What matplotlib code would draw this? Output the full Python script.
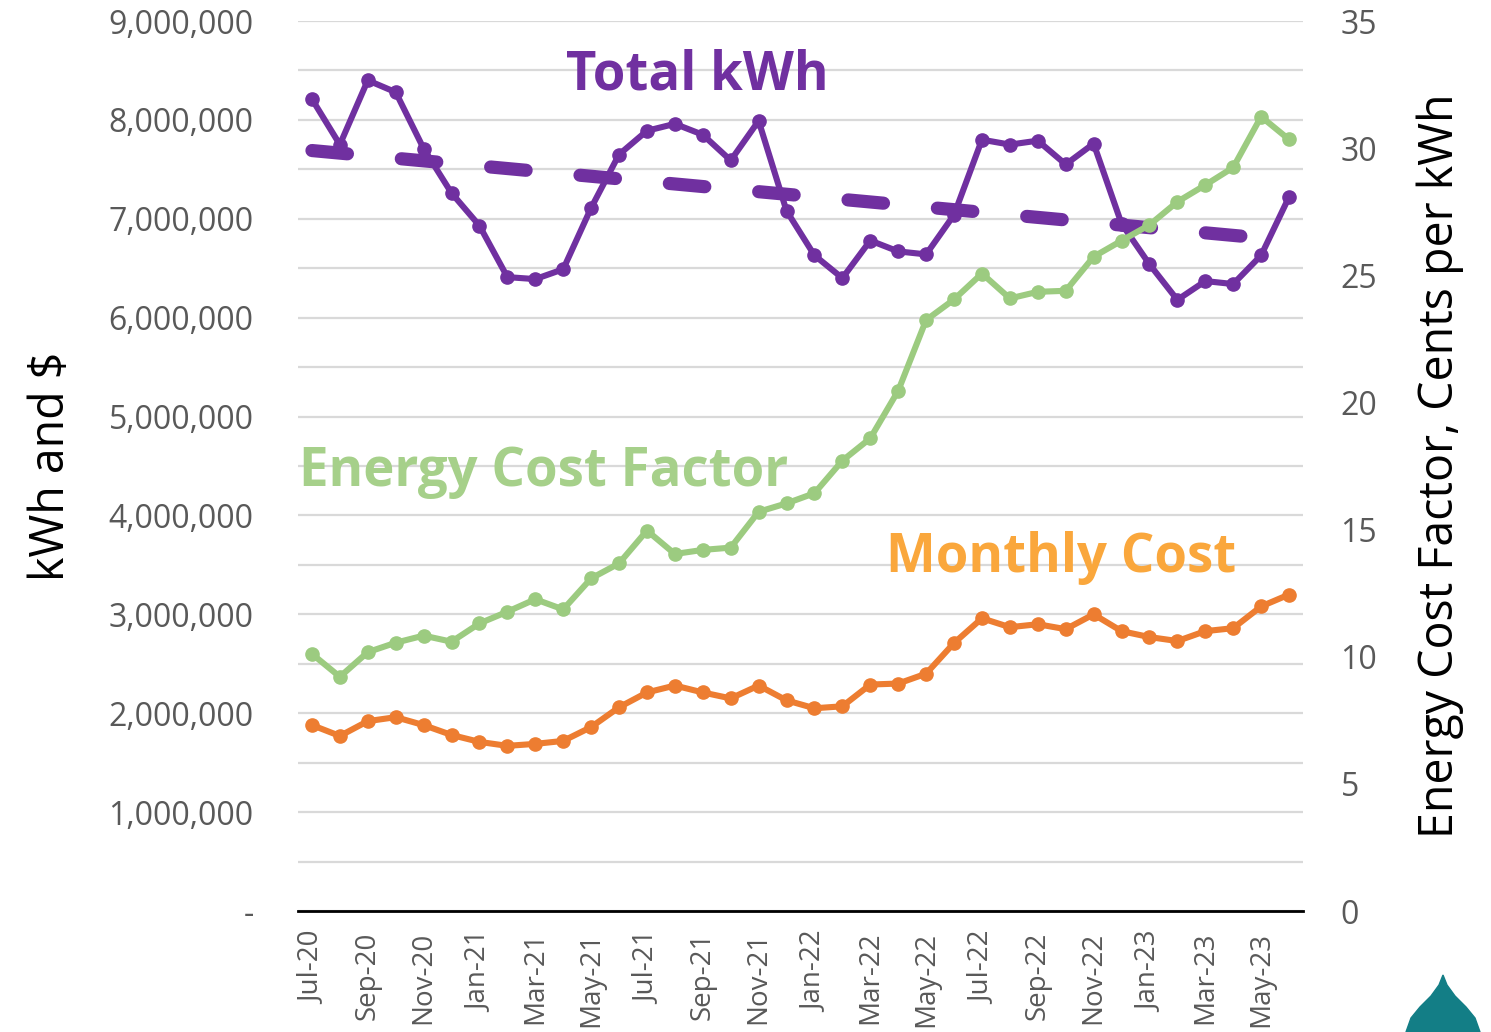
import matplotlib
matplotlib.use("Agg")
import matplotlib.pyplot as plt
from matplotlib.patches import Polygon
from matplotlib.ticker import FuncFormatter
import numpy as np

plt.rcParams['font.family'] = ['Open Sans', 'DejaVu Sans']

# Monthly data, Jul-20 .. Jun-23
months = ['Jul-20', 'Aug-20', 'Sep-20', 'Oct-20', 'Nov-20', 'Dec-20',
          'Jan-21', 'Feb-21', 'Mar-21', 'Apr-21', 'May-21', 'Jun-21',
          'Jul-21', 'Aug-21', 'Sep-21', 'Oct-21', 'Nov-21', 'Dec-21',
          'Jan-22', 'Feb-22', 'Mar-22', 'Apr-22', 'May-22', 'Jun-22',
          'Jul-22', 'Aug-22', 'Sep-22', 'Oct-22', 'Nov-22', 'Dec-22',
          'Jan-23', 'Feb-23', 'Mar-23', 'Apr-23', 'May-23', 'Jun-23']

total_kwh = [8.21, 7.75, 8.40, 8.28, 7.71, 7.26, 6.93, 6.41, 6.39, 6.49,
             7.11, 7.65, 7.89, 7.96, 7.85, 7.59, 7.99, 7.08, 6.63, 6.40,
             6.78, 6.67, 6.64, 7.04, 7.80, 7.75, 7.79, 7.55, 7.76, 6.95,
             6.54, 6.18, 6.37, 6.34, 6.63, 7.22]
total_kwh = [v * 1e6 for v in total_kwh]

monthly_cost = [1.88, 1.77, 1.92, 1.96, 1.88, 1.78, 1.71, 1.67, 1.69, 1.72,
                1.86, 2.06, 2.21, 2.28, 2.21, 2.15, 2.28, 2.13, 2.05, 2.07,
                2.29, 2.30, 2.40, 2.71, 2.96, 2.87, 2.90, 2.85, 3.00, 2.83,
                2.77, 2.73, 2.83, 2.86, 3.08, 3.20]
monthly_cost = [v * 1e6 for v in monthly_cost]

# cents per kWh (right axis)
cost_factor = [10.11, 9.21, 10.18, 10.55, 10.83, 10.59, 11.31, 11.77, 12.26, 11.86,
               13.08, 13.67, 14.96, 14.04, 14.20, 14.29, 15.70, 16.03, 16.43, 17.71,
               18.59, 20.46, 23.24, 24.05, 25.07, 24.09, 24.35, 24.39, 25.73, 26.36,
               26.98, 27.89, 28.55, 29.24, 31.24, 30.34]

# linear trendline of total kWh, first and last month
trend_kwh = [7.69e6, 6.78e6]

purple = '#7030A0'
green = '#9CCB80'
orange = '#ED7D31'
grey_txt = '#595959'

x = np.arange(len(months))

fig = plt.figure(figsize=(14.91, 10.32), dpi=100)
ax = fig.add_axes([298 / 1491, 1 - 911 / 1032, 1005 / 1491, 890 / 1032])
ax2 = ax.twinx()

# left axis: kWh and $
ax.plot(x, total_kwh, color=purple, lw=4.4, marker='o', ms=9.5, zorder=3)
ax.plot([x[0], x[-1]], trend_kwh, color=purple, lw=9.5, dashes=(2.7, 4.1),
        dash_capstyle='round', zorder=3)
ax.plot(x, monthly_cost, color=orange, lw=4.4, marker='o', ms=9.5, zorder=3)

# right axis: cents per kWh
ax2.plot(x, cost_factor, color=green, lw=4.4, marker='o', ms=9.5, zorder=3)

ax.set_xlim(-0.5, len(months) - 0.5)
ax.set_ylim(0, 9e6)
ax2.set_ylim(0, 35)

ax.set_yticks(np.arange(0, 9.5e6, 5e5))
ax.yaxis.set_major_formatter(FuncFormatter(
    lambda v, p: '-' if v == 0 else ('{:,.0f}'.format(v) if round(v) % 1000000 == 0 else '')))
ax.grid(axis='y', color='#D9D9D9', lw=1.6)
ax.set_axisbelow(True)

ax.set_xticks(x[::2])
ax.set_xticklabels(months[::2], rotation=90)

ax2.set_yticks(np.arange(0, 36, 5))

for a in (ax, ax2):
    for side in ('top', 'left', 'right'):
        a.spines[side].set_visible(False)
    a.tick_params(length=0, labelsize=23, labelcolor=grey_txt)
ax.spines['bottom'].set_color('black')
ax.spines['bottom'].set_linewidth(2)
ax2.spines['bottom'].set_visible(False)
ax.tick_params(axis='x', labelsize=20, pad=15)
ax.tick_params(axis='y', pad=32)
ax2.tick_params(axis='y', pad=27)

ax.set_ylabel('kWh and $', fontsize=33.5, color='black', labelpad=24)
ax2.set_ylabel('Energy Cost Factor, Cents per kWh', fontsize=33.5, color='black', labelpad=28)

# series labels
ax.text(0.397, 0.939, 'Total kWh', transform=ax.transAxes, color=purple,
        fontsize=38, fontweight='bold', ha='center', va='center')
ax.text(0.244, 0.493, 'Energy Cost Factor', transform=ax.transAxes, color='#A6D08A',
        fontsize=38, fontweight='bold', ha='center', va='center')
ax.text(0.759, 0.397, 'Monthly Cost', transform=ax.transAxes, color='#FAA73C',
        fontsize=38, fontweight='bold', ha='center', va='center')

# teal drop logo in corner
drop_px = [(1443, 975), (1447, 985), (1455, 996), (1466, 1007), (1475, 1018),
           (1480, 1032), (1406, 1032), (1411, 1018), (1420, 1007), (1431, 996),
           (1439, 985)]
drop = Polygon([(px / 1491, 1 - py / 1032) for px, py in drop_px], closed=True,
               transform=fig.transFigure, color='#137E86')
fig.patches.append(drop)

fig.savefig('out.png', dpi=100)
